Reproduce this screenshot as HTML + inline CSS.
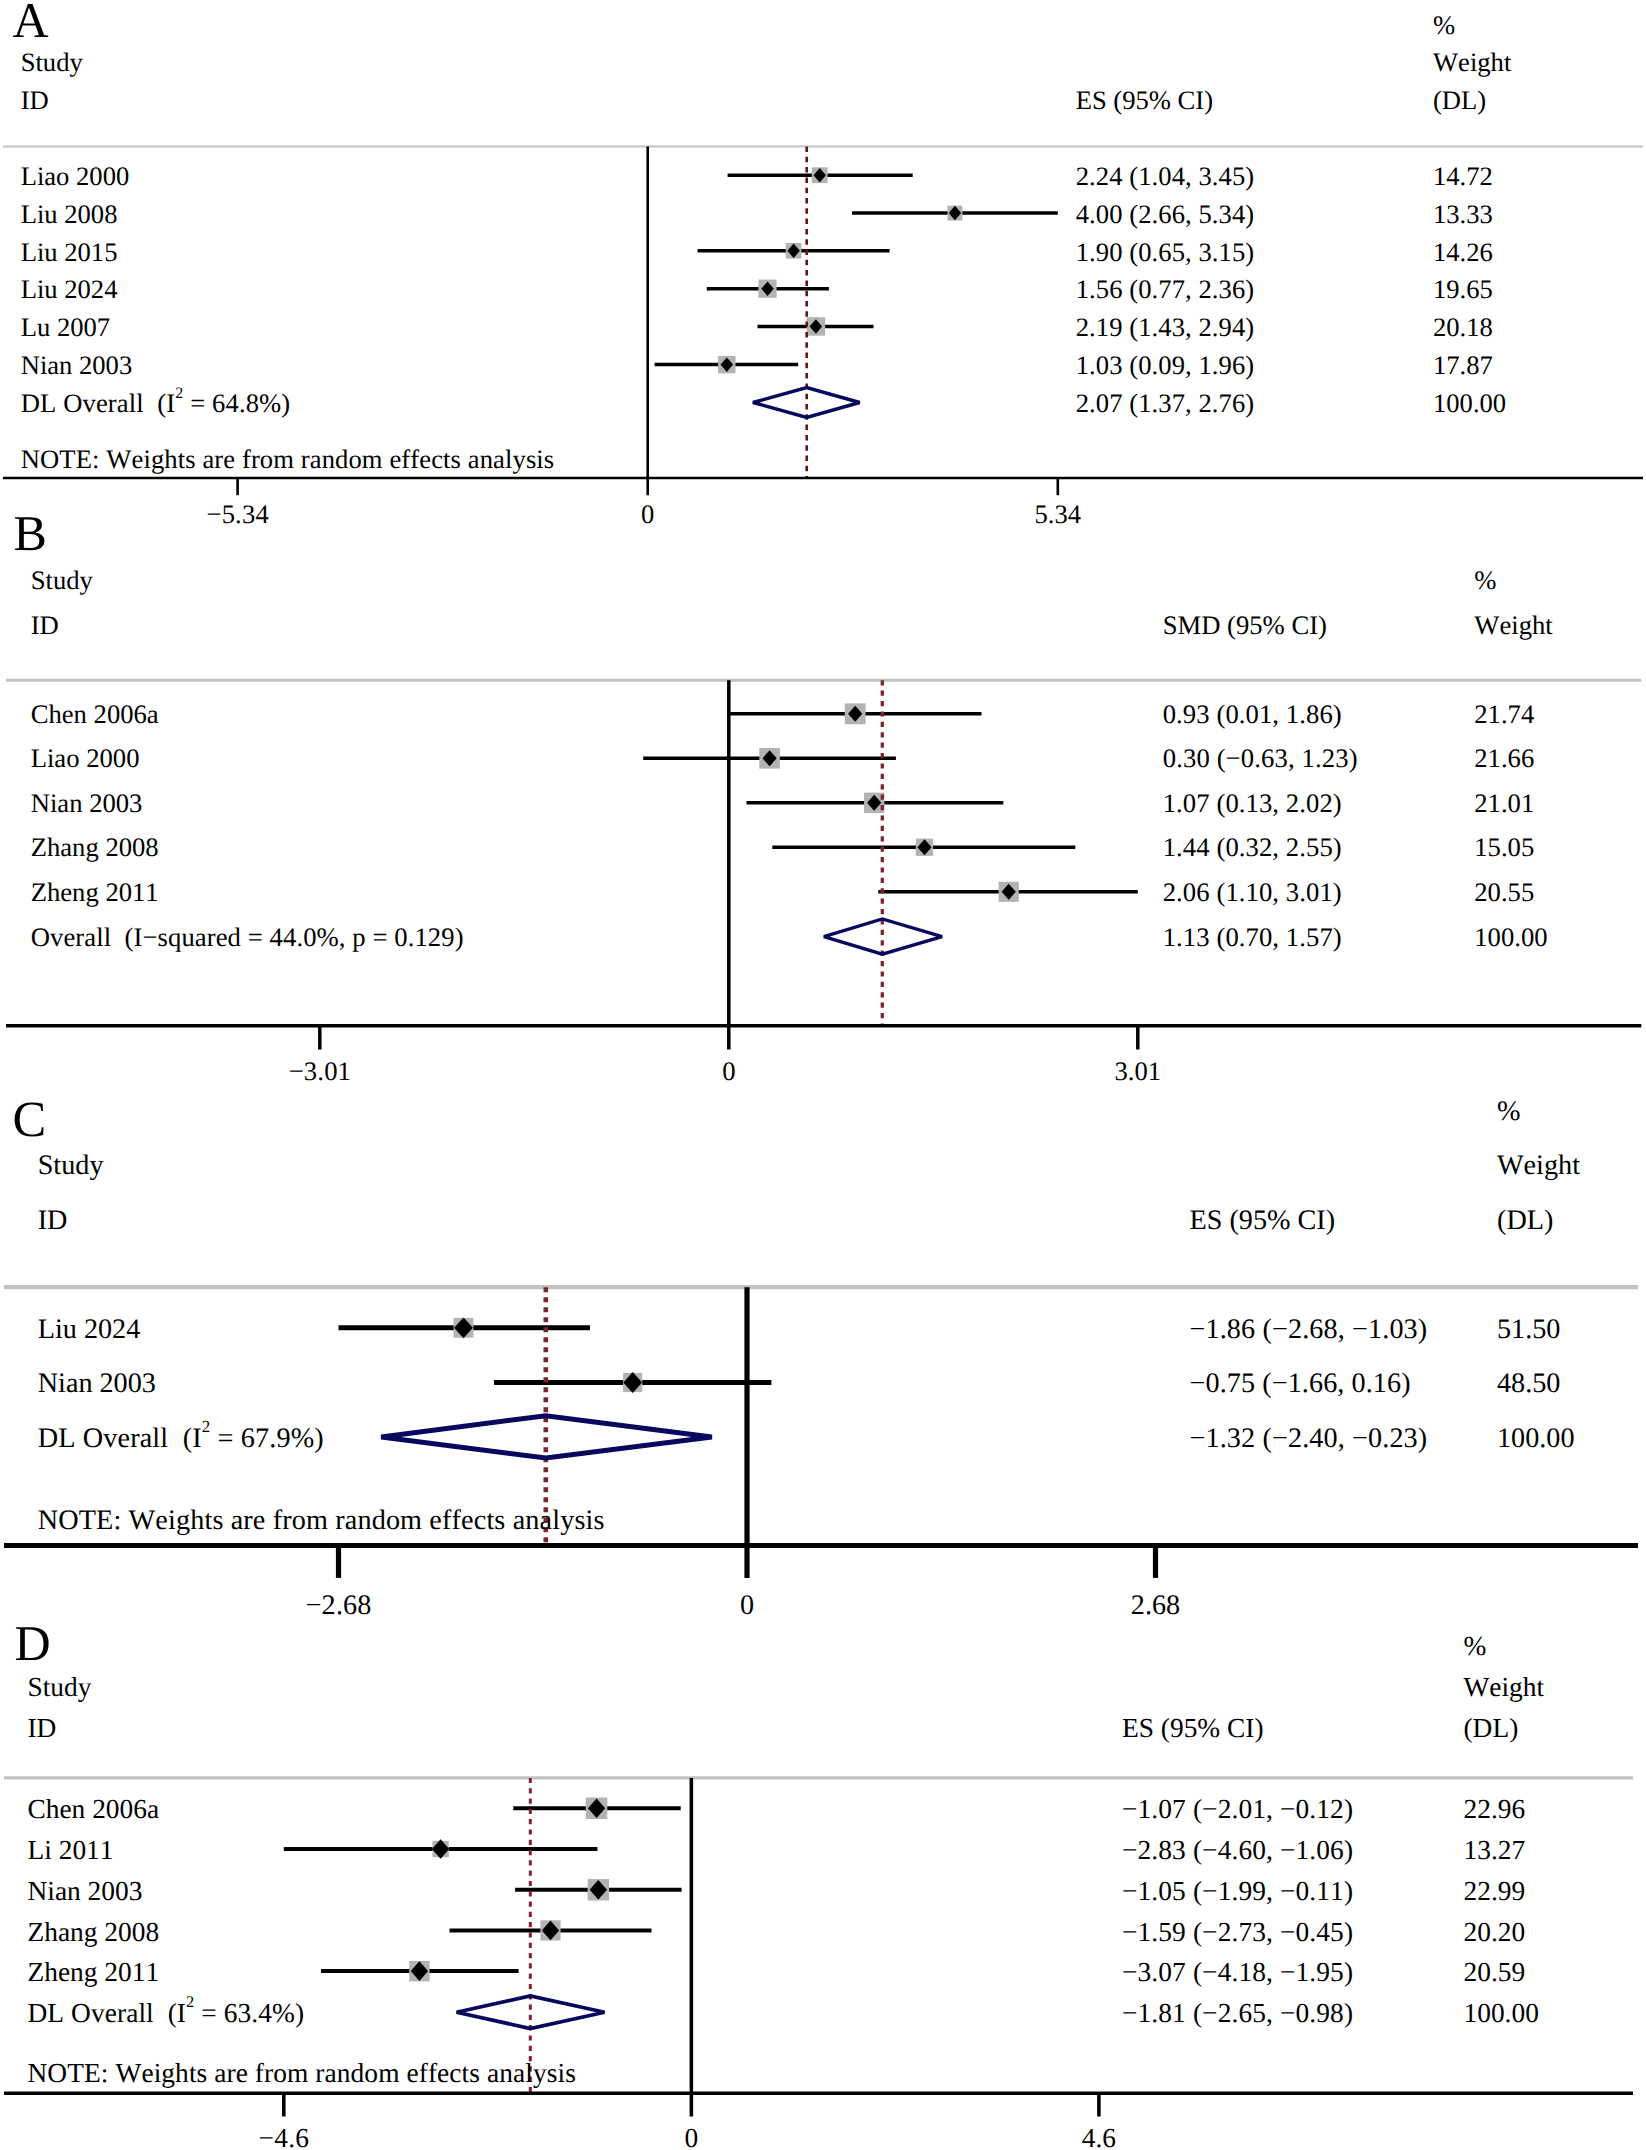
<!DOCTYPE html>
<html lang="en"><head><meta charset="utf-8"><title>Forest plots</title>
<style>
html,body{margin:0;padding:0;background:#fff}
svg{display:block}
text{font-family:"Liberation Serif", "Times New Roman", serif;fill:#000;font-kerning:none;font-variant-ligatures:none;text-rendering:geometricPrecision}
</style></head><body>
<svg width="1646" height="2150" viewBox="0 0 1646 2150">
<rect width="1646" height="2150" fill="#fff"/>
<line x1="2.9" y1="146.5" x2="1643" y2="146.5" stroke="#c2c2c2" stroke-width="2.2"/>
<line x1="727.6" y1="175.2" x2="912.7" y2="175.2" stroke="#000" stroke-width="3.5"/>
<rect x="811.8" y="167.3" width="15.8" height="15.8" fill="#b3b3b3"/>
<line x1="852.0" y1="213.1" x2="1057.8" y2="213.1" stroke="#000" stroke-width="3.5"/>
<rect x="947.4" y="205.6" width="15" height="15" fill="#b3b3b3"/>
<line x1="697.6" y1="250.8" x2="889.6" y2="250.8" stroke="#000" stroke-width="3.5"/>
<rect x="785.8" y="243.0" width="15.6" height="15.6" fill="#b3b3b3"/>
<line x1="706.8" y1="288.7" x2="828.9" y2="288.7" stroke="#000" stroke-width="3.5"/>
<rect x="758.4" y="279.6" width="18.2" height="18.2" fill="#b3b3b3"/>
<line x1="757.5" y1="326.5" x2="873.5" y2="326.5" stroke="#000" stroke-width="3.5"/>
<rect x="806.6" y="317.2" width="18.5" height="18.5" fill="#b3b3b3"/>
<line x1="654.6" y1="364.6" x2="798.2" y2="364.6" stroke="#000" stroke-width="3.5"/>
<rect x="718.1" y="355.9" width="17.4" height="17.4" fill="#b3b3b3"/>
<line x1="806.7" y1="146.5" x2="806.7" y2="478" stroke="#6a1216" stroke-width="2.6" stroke-dasharray="5.5 4.8"/>
<polygon points="813.5,175.2 819.7,167.9 826.0,175.2 819.7,182.4" fill="#000"/>
<polygon points="948.7,213.1 954.9,205.8 961.2,213.1 954.9,220.3" fill="#000"/>
<polygon points="787.4,250.8 793.6,243.6 799.9,250.8 793.6,258.1" fill="#000"/>
<polygon points="761.3,288.7 767.5,281.4 773.8,288.7 767.5,295.9" fill="#000"/>
<polygon points="809.6,326.5 815.9,319.2 822.1,326.5 815.9,333.8" fill="#000"/>
<polygon points="720.6,364.6 726.8,357.4 733.1,364.6 726.8,371.9" fill="#000"/>
<line x1="647.7" y1="146.5" x2="647.7" y2="495.2" stroke="#000" stroke-width="2.6"/>
<line x1="2.9" y1="478" x2="1643" y2="478" stroke="#000" stroke-width="2.6"/>
<line x1="237.6" y1="478" x2="237.6" y2="495.2" stroke="#000" stroke-width="2.6"/>
<text x="237.6" y="522.7" font-size="26.6" text-anchor="middle" textLength="62.2" lengthAdjust="spacing">−5.34</text>
<text x="647.7" y="522.7" font-size="26.6" text-anchor="middle">0</text>
<line x1="1057.8" y1="478" x2="1057.8" y2="495.2" stroke="#000" stroke-width="2.6"/>
<text x="1057.8" y="522.7" font-size="26.6" text-anchor="middle">5.34</text>
<polygon points="752.9,402.5 806.7,387.5 859.7,402.5 806.7,417.5" fill="none" stroke="#08085e" stroke-width="3.4" stroke-linejoin="miter" stroke-miterlimit="2"/>
<text x="20.7" y="184.9" font-size="26.6">Liao 2000</text>
<text x="1075.7" y="184.9" font-size="26.6" textLength="178.5" lengthAdjust="spacing">2.24 (1.04, 3.45)</text>
<text x="1433" y="184.9" font-size="26.6">14.72</text>
<text x="20.7" y="222.8" font-size="26.6">Liu 2008</text>
<text x="1075.7" y="222.8" font-size="26.6" textLength="178.5" lengthAdjust="spacing">4.00 (2.66, 5.34)</text>
<text x="1433" y="222.8" font-size="26.6">13.33</text>
<text x="20.7" y="260.5" font-size="26.6">Liu 2015</text>
<text x="1075.7" y="260.5" font-size="26.6" textLength="178.5" lengthAdjust="spacing">1.90 (0.65, 3.15)</text>
<text x="1433" y="260.5" font-size="26.6">14.26</text>
<text x="20.7" y="298.4" font-size="26.6">Liu 2024</text>
<text x="1075.7" y="298.4" font-size="26.6" textLength="178.5" lengthAdjust="spacing">1.56 (0.77, 2.36)</text>
<text x="1433" y="298.4" font-size="26.6">19.65</text>
<text x="20.7" y="336.2" font-size="26.6">Lu 2007</text>
<text x="1075.7" y="336.2" font-size="26.6" textLength="178.5" lengthAdjust="spacing">2.19 (1.43, 2.94)</text>
<text x="1433" y="336.2" font-size="26.6">20.18</text>
<text x="20.7" y="374.3" font-size="26.6">Nian 2003</text>
<text x="1075.7" y="374.3" font-size="26.6" textLength="178.5" lengthAdjust="spacing">1.03 (0.09, 1.96)</text>
<text x="1433" y="374.3" font-size="26.6">17.87</text>
<text x="20.7" y="412.2" font-size="26.6" xml:space="preserve" textLength="269.5" lengthAdjust="spacing">DL Overall  (I<tspan font-size="16.0" dy="-14.4">2</tspan><tspan dy="14.4"> </tspan>= 64.8%)</text>
<text x="1075.7" y="412.2" font-size="26.6" textLength="178.5" lengthAdjust="spacing">2.07 (1.37, 2.76)</text>
<text x="1433" y="412.2" font-size="26.6">100.00</text>
<text x="20.7" y="71.4" font-size="26.6">Study</text>
<text x="20.7" y="109.3" font-size="26.6">ID</text>
<text x="1075.7" y="109.3" font-size="26.6">ES (95% CI)</text>
<text x="1433" y="33.5" font-size="26.6">%</text>
<text x="1433" y="71.4" font-size="26.6">Weight</text>
<text x="1433" y="109.3" font-size="26.6">(DL)</text>
<text x="20.7" y="467.8" font-size="26.6" textLength="533.5" lengthAdjust="spacing">NOTE: Weights are from random effects analysis</text>
<text x="12.5" y="37" font-size="50">A</text>
<line x1="6" y1="680.2" x2="1641.3" y2="680.2" stroke="#c2c2c2" stroke-width="3"/>
<line x1="730.2" y1="713.8" x2="981.5" y2="713.8" stroke="#000" stroke-width="3.4"/>
<rect x="844.8" y="703.4" width="20.8" height="20.8" fill="#b3b3b3"/>
<line x1="643.2" y1="758.3" x2="895.9" y2="758.3" stroke="#000" stroke-width="3.4"/>
<rect x="759.3" y="748.0" width="20.6" height="20.6" fill="#b3b3b3"/>
<line x1="746.5" y1="802.8" x2="1003.3" y2="802.8" stroke="#000" stroke-width="3.4"/>
<rect x="864.0" y="792.6" width="20.4" height="20.4" fill="#b3b3b3"/>
<line x1="772.3" y1="847.3" x2="1075.3" y2="847.3" stroke="#000" stroke-width="3.4"/>
<rect x="915.8" y="838.6" width="17.3" height="17.3" fill="#b3b3b3"/>
<line x1="878.3" y1="891.8" x2="1137.8" y2="891.8" stroke="#000" stroke-width="3.4"/>
<rect x="998.6" y="881.7" width="20.2" height="20.2" fill="#b3b3b3"/>
<line x1="882.3" y1="680.2" x2="882.3" y2="1025.8" stroke="#7c2431" stroke-width="3.3" stroke-dasharray="5.2 5.2"/>
<polygon points="848.1,713.8 855.2,705.8 862.3,713.8 855.2,721.8" fill="#000"/>
<polygon points="762.5,758.3 769.6,750.3 776.7,758.3 769.6,766.3" fill="#000"/>
<polygon points="867.1,802.8 874.2,794.8 881.3,802.8 874.2,810.8" fill="#000"/>
<polygon points="917.4,847.3 924.5,839.3 931.6,847.3 924.5,855.3" fill="#000"/>
<polygon points="1001.6,891.8 1008.7,883.8 1015.8,891.8 1008.7,899.8" fill="#000"/>
<line x1="728.8" y1="680.2" x2="728.8" y2="1049.5" stroke="#000" stroke-width="3.5"/>
<line x1="6" y1="1025.8" x2="1641.3" y2="1025.8" stroke="#000" stroke-width="3.5"/>
<line x1="319.8" y1="1025.8" x2="319.8" y2="1049.5" stroke="#000" stroke-width="3.5"/>
<text x="319.8" y="1080.3" font-size="26.65" text-anchor="middle" textLength="62.3" lengthAdjust="spacing">−3.01</text>
<text x="728.8" y="1080.3" font-size="26.65" text-anchor="middle">0</text>
<line x1="1137.8" y1="1025.8" x2="1137.8" y2="1049.5" stroke="#000" stroke-width="3.5"/>
<text x="1137.8" y="1080.3" font-size="26.65" text-anchor="middle">3.01</text>
<polygon points="823.9,936.6 882.3,919.0 942.1,936.6 882.3,954.2" fill="none" stroke="#08085e" stroke-width="3.3" stroke-linejoin="miter" stroke-miterlimit="2"/>
<text x="30.7" y="722.9" font-size="26.65">Chen 2006a</text>
<text x="1162.7" y="722.9" font-size="26.65" textLength="179.0" lengthAdjust="spacing">0.93 (0.01, 1.86)</text>
<text x="1474.3" y="722.9" font-size="26.65">21.74</text>
<text x="30.7" y="767.4" font-size="26.65">Liao 2000</text>
<text x="1162.7" y="767.4" font-size="26.65" textLength="194.8" lengthAdjust="spacing">0.30 (−0.63, 1.23)</text>
<text x="1474.3" y="767.4" font-size="26.65">21.66</text>
<text x="30.7" y="811.9" font-size="26.65">Nian 2003</text>
<text x="1162.7" y="811.9" font-size="26.65" textLength="179.0" lengthAdjust="spacing">1.07 (0.13, 2.02)</text>
<text x="1474.3" y="811.9" font-size="26.65">21.01</text>
<text x="30.7" y="856.4" font-size="26.65">Zhang 2008</text>
<text x="1162.7" y="856.4" font-size="26.65" textLength="179.0" lengthAdjust="spacing">1.44 (0.32, 2.55)</text>
<text x="1474.3" y="856.4" font-size="26.65">15.05</text>
<text x="30.7" y="900.9" font-size="26.65">Zheng 2011</text>
<text x="1162.7" y="900.9" font-size="26.65" textLength="179.0" lengthAdjust="spacing">2.06 (1.10, 3.01)</text>
<text x="1474.3" y="900.9" font-size="26.65">20.55</text>
<text x="30.7" y="946.4" font-size="26.65" xml:space="preserve" textLength="432.8" lengthAdjust="spacing">Overall  (I−squared = 44.0%, p = 0.129)</text>
<text x="1162.7" y="946.4" font-size="26.65" textLength="179.0" lengthAdjust="spacing">1.13 (0.70, 1.57)</text>
<text x="1474.3" y="946.4" font-size="26.65">100.00</text>
<text x="30.7" y="589.0" font-size="26.65">Study</text>
<text x="30.7" y="633.8" font-size="26.65">ID</text>
<text x="1162.7" y="633.8" font-size="26.65">SMD (95% CI)</text>
<text x="1474.3" y="589.0" font-size="26.65">%</text>
<text x="1474.3" y="633.8" font-size="26.65">Weight</text>
<text x="13.6" y="550" font-size="50">B</text>
<line x1="4" y1="1287.2" x2="1638" y2="1287.2" stroke="#c2c2c2" stroke-width="4.2"/>
<line x1="338.5" y1="1327.8" x2="590.0" y2="1327.8" stroke="#000" stroke-width="5"/>
<rect x="453.6" y="1317.9" width="19.8" height="19.8" fill="#b3b3b3"/>
<line x1="494.0" y1="1382.5" x2="771.4" y2="1382.5" stroke="#000" stroke-width="5"/>
<rect x="623.1" y="1372.9" width="19.2" height="19.2" fill="#b3b3b3"/>
<line x1="545.8" y1="1287.2" x2="545.8" y2="1545.5" stroke="#7a2734" stroke-width="4.6" stroke-dasharray="5 5"/>
<polygon points="454.1,1327.8 463.5,1317.4 472.9,1327.8 463.5,1338.2" fill="#000"/>
<polygon points="623.3,1382.5 632.7,1372.1 642.1,1382.5 632.7,1392.9" fill="#000"/>
<line x1="747.0" y1="1287.2" x2="747.0" y2="1577.9" stroke="#000" stroke-width="5.2"/>
<line x1="4" y1="1545.5" x2="1638" y2="1545.5" stroke="#000" stroke-width="5.2"/>
<line x1="338.5" y1="1545.5" x2="338.5" y2="1577.9" stroke="#000" stroke-width="5.2"/>
<text x="338.5" y="1614.3" font-size="28.2" text-anchor="middle" textLength="65.9" lengthAdjust="spacing">−2.68</text>
<text x="747.0" y="1614.3" font-size="28.2" text-anchor="middle">0</text>
<line x1="1155.5" y1="1545.5" x2="1155.5" y2="1577.9" stroke="#000" stroke-width="5.2"/>
<text x="1155.5" y="1614.3" font-size="28.2" text-anchor="middle">2.68</text>
<polygon points="381.2,1436.9 545.8,1415.7 711.9,1436.9 545.8,1458.1000000000001" fill="none" stroke="#08085e" stroke-width="5" stroke-linejoin="miter" stroke-miterlimit="2"/>
<text x="37.7" y="1337.6" font-size="28.2">Liu 2024</text>
<text x="1189.5" y="1337.6" font-size="28.2" textLength="237.7" lengthAdjust="spacing">−1.86 (−2.68, −1.03)</text>
<text x="1497" y="1337.6" font-size="28.2">51.50</text>
<text x="37.7" y="1392.3" font-size="28.2">Nian 2003</text>
<text x="1189.5" y="1392.3" font-size="28.2" textLength="221.1" lengthAdjust="spacing">−0.75 (−1.66, 0.16)</text>
<text x="1497" y="1392.3" font-size="28.2">48.50</text>
<text x="37.7" y="1446.7" font-size="28.2" xml:space="preserve" textLength="286" lengthAdjust="spacing">DL Overall  (I<tspan font-size="16.9" dy="-15.2">2</tspan><tspan dy="15.2"> </tspan>= 67.9%)</text>
<text x="1189.5" y="1446.7" font-size="28.2" textLength="237.7" lengthAdjust="spacing">−1.32 (−2.40, −0.23)</text>
<text x="1497" y="1446.7" font-size="28.2">100.00</text>
<text x="37.7" y="1174.3" font-size="28.2">Study</text>
<text x="37.7" y="1229" font-size="28.2">ID</text>
<text x="1189.5" y="1229" font-size="28.2">ES (95% CI)</text>
<text x="1497" y="1120" font-size="28.2">%</text>
<text x="1497" y="1174" font-size="28.2">Weight</text>
<text x="1497" y="1229" font-size="28.2">(DL)</text>
<text x="37.7" y="1529" font-size="28.2" textLength="566.8" lengthAdjust="spacing">NOTE: Weights are from random effects analysis</text>
<text x="12.5" y="1136.3" font-size="50.5">C</text>
<line x1="4" y1="1777.9" x2="1633" y2="1777.9" stroke="#c2c2c2" stroke-width="3.1"/>
<line x1="513.3" y1="1808.3" x2="680.7" y2="1808.3" stroke="#000" stroke-width="4.0"/>
<rect x="585.8" y="1797.5" width="21.5" height="21.5" fill="#b3b3b3"/>
<line x1="283.8" y1="1849.0" x2="597.4" y2="1849.0" stroke="#000" stroke-width="4.0"/>
<rect x="432.4" y="1840.8" width="16.4" height="16.4" fill="#b3b3b3"/>
<line x1="515.1" y1="1889.8" x2="681.6" y2="1889.8" stroke="#000" stroke-width="4.0"/>
<rect x="587.6" y="1879.0" width="21.5" height="21.5" fill="#b3b3b3"/>
<line x1="449.5" y1="1930.4" x2="651.5" y2="1930.4" stroke="#000" stroke-width="4.0"/>
<rect x="540.4" y="1920.3" width="20.2" height="20.2" fill="#b3b3b3"/>
<line x1="321.0" y1="1971.1" x2="518.6" y2="1971.1" stroke="#000" stroke-width="4.0"/>
<rect x="409.2" y="1960.9" width="20.4" height="20.4" fill="#b3b3b3"/>
<line x1="530.3" y1="1777.9" x2="530.3" y2="2093.3" stroke="#7c2431" stroke-width="3.0" stroke-dasharray="5.2 5.1"/>
<polygon points="587.9,1808.3 596.6,1798.5 605.3,1808.3 596.6,1818.1" fill="#000"/>
<polygon points="431.9,1849.0 440.6,1839.2 449.3,1849.0 440.6,1858.8" fill="#000"/>
<polygon points="589.6,1889.8 598.3,1880.0 607.0,1889.8 598.3,1899.6" fill="#000"/>
<polygon points="541.8,1930.4 550.5,1920.6 559.2,1930.4 550.5,1940.2" fill="#000"/>
<polygon points="410.7,1971.1 419.4,1961.2 428.1,1971.1 419.4,1980.9" fill="#000"/>
<line x1="691.35" y1="1777.9" x2="691.35" y2="2116.5" stroke="#000" stroke-width="3.55"/>
<line x1="4" y1="2093.3" x2="1633" y2="2093.3" stroke="#000" stroke-width="3.55"/>
<line x1="283.8" y1="2093.3" x2="283.8" y2="2116.5" stroke="#000" stroke-width="3.55"/>
<text x="283.8" y="2147.0" font-size="27.4" text-anchor="middle" textLength="50.4" lengthAdjust="spacing">−4.6</text>
<text x="691.4" y="2147.0" font-size="27.4" text-anchor="middle">0</text>
<line x1="1098.9" y1="2093.3" x2="1098.9" y2="2116.5" stroke="#000" stroke-width="3.55"/>
<text x="1098.9" y="2147.0" font-size="27.4" text-anchor="middle">4.6</text>
<polygon points="456.6,2012.2 530.3,1995.9 604.5,2012.2 530.3,2028.5" fill="none" stroke="#08085e" stroke-width="3.7" stroke-linejoin="miter" stroke-miterlimit="2"/>
<text x="27.5" y="1818.4" font-size="27.4">Chen 2006a</text>
<text x="1122" y="1818.4" font-size="27.4" textLength="231.0" lengthAdjust="spacing">−1.07 (−2.01, −0.12)</text>
<text x="1463.5" y="1818.4" font-size="27.4">22.96</text>
<text x="27.5" y="1859.1" font-size="27.4">Li 2011</text>
<text x="1122" y="1859.1" font-size="27.4" textLength="231.0" lengthAdjust="spacing">−2.83 (−4.60, −1.06)</text>
<text x="1463.5" y="1859.1" font-size="27.4">13.27</text>
<text x="27.5" y="1899.9" font-size="27.4">Nian 2003</text>
<text x="1122" y="1899.9" font-size="27.4" textLength="231.0" lengthAdjust="spacing">−1.05 (−1.99, −0.11)</text>
<text x="1463.5" y="1899.9" font-size="27.4">22.99</text>
<text x="27.5" y="1940.5" font-size="27.4">Zhang 2008</text>
<text x="1122" y="1940.5" font-size="27.4" textLength="231.0" lengthAdjust="spacing">−1.59 (−2.73, −0.45)</text>
<text x="1463.5" y="1940.5" font-size="27.4">20.20</text>
<text x="27.5" y="1981.2" font-size="27.4">Zheng 2011</text>
<text x="1122" y="1981.2" font-size="27.4" textLength="231.0" lengthAdjust="spacing">−3.07 (−4.18, −1.95)</text>
<text x="1463.5" y="1981.2" font-size="27.4">20.59</text>
<text x="27.5" y="2021.7" font-size="27.4" xml:space="preserve" textLength="276.5" lengthAdjust="spacing">DL Overall  (I<tspan font-size="16.4" dy="-14.8">2</tspan><tspan dy="14.8"> </tspan>= 63.4%)</text>
<text x="1122" y="2021.7" font-size="27.4" textLength="231.0" lengthAdjust="spacing">−1.81 (−2.65, −0.98)</text>
<text x="1463.5" y="2021.7" font-size="27.4">100.00</text>
<text x="27.5" y="1695.9" font-size="27.4">Study</text>
<text x="27.5" y="1736.9" font-size="27.4">ID</text>
<text x="1122" y="1736.9" font-size="27.4">ES (95% CI)</text>
<text x="1463.5" y="1654.9" font-size="27.4">%</text>
<text x="1463.5" y="1695.9" font-size="27.4">Weight</text>
<text x="1463.5" y="1736.9" font-size="27.4">(DL)</text>
<text x="27.5" y="2082.3" font-size="27.4" textLength="548.3" lengthAdjust="spacing">NOTE: Weights are from random effects analysis</text>
<text x="14.4" y="1659.8" font-size="50">D</text>
</svg>
</body></html>
